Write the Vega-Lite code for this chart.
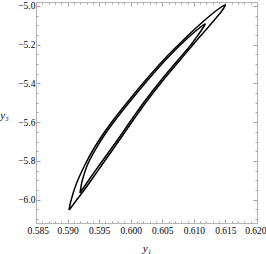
{
  "$schema": "https://vega.github.io/schema/vega-lite/v6.json",
  "autosize": "none",
  "width": 221,
  "height": 221,
  "padding": {"left": 36, "top": 2, "right": 9, "bottom": 31},
  "background": "white",
  "config": {
    "view": {"stroke": null},
    "axis": {
      "labelFont": "Liberation Serif",
      "labelFontSize": 9.5,
      "labelColor": "black",
      "titleFont": "Liberation Serif",
      "titleFontSize": 11,
      "titleFontStyle": "italic",
      "titleFontWeight": "normal",
      "titleColor": "black",
      "domainColor": "#b4b4b4",
      "domainWidth": 1,
      "tickColor": "#8a8a8a",
      "tickWidth": 0.8,
      "grid": false
    }
  },
  "data": {"values": [
    {"loop": "outer", "o": 1, "y1": 0.59023, "y3": -6.05295},
    {"loop": "outer", "o": 2, "y1": 0.59037, "y3": -6.02716},
    {"loop": "outer", "o": 3, "y1": 0.59057, "y3": -6.00137},
    {"loop": "outer", "o": 4, "y1": 0.59104, "y3": -5.94978},
    {"loop": "outer", "o": 5, "y1": 0.59163, "y3": -5.89820},
    {"loop": "outer", "o": 6, "y1": 0.59274, "y3": -5.82082},
    {"loop": "outer", "o": 7, "y1": 0.59402, "y3": -5.74345},
    {"loop": "outer", "o": 8, "y1": 0.59553, "y3": -5.66607},
    {"loop": "outer", "o": 9, "y1": 0.59724, "y3": -5.58869},
    {"loop": "outer", "o": 10, "y1": 0.59975, "y3": -5.48553},
    {"loop": "outer", "o": 11, "y1": 0.60239, "y3": -5.38236},
    {"loop": "outer", "o": 12, "y1": 0.60520, "y3": -5.27919},
    {"loop": "outer", "o": 13, "y1": 0.60753, "y3": -5.20181},
    {"loop": "outer", "o": 14, "y1": 0.60999, "y3": -5.12444},
    {"loop": "outer", "o": 15, "y1": 0.61175, "y3": -5.07285},
    {"loop": "outer", "o": 16, "y1": 0.61307, "y3": -5.03674},
    {"loop": "outer", "o": 17, "y1": 0.61412, "y3": -5.01095},
    {"loop": "outer", "o": 18, "y1": 0.61493, "y3": -4.99548},
    {"loop": "outer", "o": 19, "y1": 0.61475, "y3": -5.01095},
    {"loop": "outer", "o": 20, "y1": 0.61418, "y3": -5.03674},
    {"loop": "outer", "o": 21, "y1": 0.61325, "y3": -5.07285},
    {"loop": "outer", "o": 22, "y1": 0.61189, "y3": -5.12444},
    {"loop": "outer", "o": 23, "y1": 0.60982, "y3": -5.20181},
    {"loop": "outer", "o": 24, "y1": 0.60782, "y3": -5.27919},
    {"loop": "outer", "o": 25, "y1": 0.60516, "y3": -5.38236},
    {"loop": "outer", "o": 26, "y1": 0.60268, "y3": -5.48553},
    {"loop": "outer", "o": 27, "y1": 0.60041, "y3": -5.58869},
    {"loop": "outer", "o": 28, "y1": 0.59877, "y3": -5.66607},
    {"loop": "outer", "o": 29, "y1": 0.59711, "y3": -5.74345},
    {"loop": "outer", "o": 30, "y1": 0.59543, "y3": -5.82082},
    {"loop": "outer", "o": 31, "y1": 0.59377, "y3": -5.89820},
    {"loop": "outer", "o": 32, "y1": 0.59263, "y3": -5.94978},
    {"loop": "outer", "o": 33, "y1": 0.59144, "y3": -6.00137},
    {"loop": "outer", "o": 34, "y1": 0.59085, "y3": -6.02716},
    {"loop": "outer", "o": 35, "y1": 0.59023, "y3": -6.05295},
    {"loop": "inner", "o": 1, "y1": 0.59196, "y3": -5.96526},
    {"loop": "inner", "o": 2, "y1": 0.59210, "y3": -5.93946},
    {"loop": "inner", "o": 3, "y1": 0.59235, "y3": -5.89820},
    {"loop": "inner", "o": 4, "y1": 0.59314, "y3": -5.82082},
    {"loop": "inner", "o": 5, "y1": 0.59438, "y3": -5.74345},
    {"loop": "inner", "o": 6, "y1": 0.59584, "y3": -5.66607},
    {"loop": "inner", "o": 7, "y1": 0.59756, "y3": -5.58869},
    {"loop": "inner", "o": 8, "y1": 0.60007, "y3": -5.48553},
    {"loop": "inner", "o": 9, "y1": 0.60271, "y3": -5.38236},
    {"loop": "inner", "o": 10, "y1": 0.60552, "y3": -5.27919},
    {"loop": "inner", "o": 11, "y1": 0.60785, "y3": -5.20181},
    {"loop": "inner", "o": 12, "y1": 0.60956, "y3": -5.15023},
    {"loop": "inner", "o": 13, "y1": 0.61088, "y3": -5.11412},
    {"loop": "inner", "o": 14, "y1": 0.61176, "y3": -5.09348},
    {"loop": "inner", "o": 15, "y1": 0.61144, "y3": -5.11412},
    {"loop": "inner", "o": 16, "y1": 0.61067, "y3": -5.15023},
    {"loop": "inner", "o": 17, "y1": 0.60951, "y3": -5.20181},
    {"loop": "inner", "o": 18, "y1": 0.60750, "y3": -5.27919},
    {"loop": "inner", "o": 19, "y1": 0.60484, "y3": -5.38236},
    {"loop": "inner", "o": 20, "y1": 0.60236, "y3": -5.48553},
    {"loop": "inner", "o": 21, "y1": 0.60009, "y3": -5.58869},
    {"loop": "inner", "o": 22, "y1": 0.59846, "y3": -5.66607},
    {"loop": "inner", "o": 23, "y1": 0.59676, "y3": -5.74345},
    {"loop": "inner", "o": 24, "y1": 0.59504, "y3": -5.82082},
    {"loop": "inner", "o": 25, "y1": 0.59337, "y3": -5.89820},
    {"loop": "inner", "o": 26, "y1": 0.59250, "y3": -5.93946},
    {"loop": "inner", "o": 27, "y1": 0.59196, "y3": -5.96526}
  ]},
  "resolve": {"axis": {"x": "independent", "y": "independent"}},
  "layer": [
    {
      "mark": {"type": "line", "stroke": "black", "strokeWidth": 1.5, "interpolate": "cardinal", "strokeJoin": "round"},
      "encoding": {
        "detail": {"field": "loop", "type": "nominal"},
        "order": {"field": "o", "type": "quantitative"},
        "x": {
          "field": "y1", "type": "quantitative",
          "scale": {"domain": [0.585, 0.62], "nice": false, "zero": false},
          "axis": {
            "orient": "bottom",
            "title": "y₁",
            "titleX": 110.5, "titleY": 28, "titleBaseline": "alphabetic", "titleAlign": "center",
            "values": [0.585,0.586,0.587,0.588,0.589,0.59,0.591,0.592,0.593,0.594,0.595,0.596,0.597,0.598,0.599,0.6,0.601,0.602,0.603,0.604,0.605,0.606,0.607,0.608,0.609,0.61,0.611,0.612,0.613,0.614,0.615,0.616,0.617,0.618,0.619,0.62],
            "labelExpr": "abs(datum.value*200 - round(datum.value*200)) < 0.01 ? format(datum.value, '.3f') : ''",
            "labelFlush": true,
            "labelFlushOffset": 9,
            "labelOverlap": false,
            "labelPadding": 6,
            "tickSize": {"condition": {"test": "abs(datum.value*200 - round(datum.value*200)) < 0.01", "value": -4}, "value": -2}
          }
        },
        "y": {
          "field": "y3", "type": "quantitative",
          "scale": {"domain": [-6.12, -4.98], "nice": false, "zero": false},
          "axis": {
            "orient": "left",
            "title": "y₃",
            "titleAngle": 0,
            "titleX": -32, "titleY": 113, "titleAlign": "center", "titleBaseline": "middle",
            "values": [-6.1,-6.05,-6.0,-5.95,-5.9,-5.85,-5.8,-5.75,-5.7,-5.65,-5.6,-5.55,-5.5,-5.45,-5.4,-5.35,-5.3,-5.25,-5.2,-5.15,-5.1,-5.05,-5.0],
            "labelExpr": "abs(datum.value*5 - round(datum.value*5)) < 0.01 ? format(datum.value, '.1f') : ''",
            "labelFlush": false,
            "labelOverlap": false,
            "labelPadding": 5,
            "tickSize": {"condition": {"test": "abs(datum.value*5 - round(datum.value*5)) < 0.01", "value": -4}, "value": -2}
          }
        }
      }
    },
    {
      "mark": {"type": "line", "strokeOpacity": 0},
      "encoding": {
        "detail": {"field": "loop", "type": "nominal"},
        "order": {"field": "o", "type": "quantitative"},
        "x": {
          "field": "y1", "type": "quantitative",
          "scale": {"domain": [0.585, 0.62], "nice": false, "zero": false},
          "axis": {
            "orient": "top",
            "title": null,
            "labels": false,
            "values": [0.585,0.586,0.587,0.588,0.589,0.59,0.591,0.592,0.593,0.594,0.595,0.596,0.597,0.598,0.599,0.6,0.601,0.602,0.603,0.604,0.605,0.606,0.607,0.608,0.609,0.61,0.611,0.612,0.613,0.614,0.615,0.616,0.617,0.618,0.619,0.62],
            "tickSize": {"condition": {"test": "abs(datum.value*200 - round(datum.value*200)) < 0.01", "value": -4}, "value": -2}
          }
        },
        "y": {
          "field": "y3", "type": "quantitative",
          "scale": {"domain": [-6.12, -4.98], "nice": false, "zero": false},
          "axis": {
            "orient": "right",
            "title": null,
            "labels": false,
            "values": [-6.1,-6.05,-6.0,-5.95,-5.9,-5.85,-5.8,-5.75,-5.7,-5.65,-5.6,-5.55,-5.5,-5.45,-5.4,-5.35,-5.3,-5.25,-5.2,-5.15,-5.1,-5.05,-5.0],
            "tickSize": {"condition": {"test": "abs(datum.value*5 - round(datum.value*5)) < 0.01", "value": -4}, "value": -2}
          }
        }
      }
    }
  ]
}
